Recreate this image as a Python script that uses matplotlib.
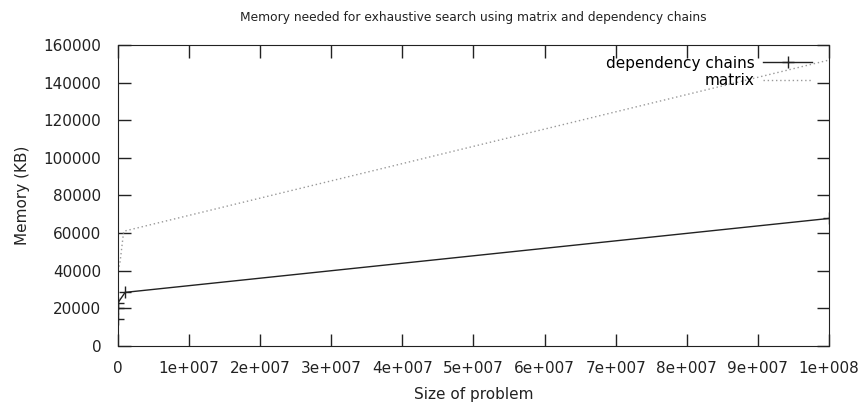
import matplotlib
matplotlib.use("Agg")
import matplotlib.pyplot as plt
from matplotlib.ticker import FuncFormatter, MultipleLocator

# Data
sizes_chains = [0, 0, 0, 1e6, 1e8]
mem_chains = [14500, 20000, 23000, 28500, 67800]

sizes_matrix = [0, 3e5, 8e5, 1e8]
mem_matrix = [40000, 45000, 61000, 152000]

title = "Memory needed for exhaustive search using matrix and dependency chains"

plt.rcParams['font.family'] = ['DejaVu Sans']

fig = plt.figure(figsize=(8.62, 4.11), dpi=100)
ax = fig.add_axes([0.1369, 0.1582, 0.9617 - 0.1369, 0.8905 - 0.1582])

ax.plot(sizes_chains, mem_chains, color="#222222", lw=1.0, marker="+",
        markersize=8, markeredgewidth=1.0, label="dependency chains")
ax.plot(sizes_matrix, mem_matrix, color="#999999", lw=1.0, linestyle=(0, (1, 2)),
        label="matrix")

ax.set_xlim(0, 1e8)
ax.set_ylim(0, 160000)
ax.xaxis.set_major_locator(MultipleLocator(1e7))
ax.yaxis.set_major_locator(MultipleLocator(20000))


def sci(v, pos):
    if v == 0:
        return "0"
    exp = 0
    m = v
    while m >= 10:
        m /= 10
        exp += 1
    return "%de+%03d" % (round(m), exp)


ax.xaxis.set_major_formatter(FuncFormatter(sci))
ax.tick_params(direction="in", length=9, width=1, top=True, right=True,
               labelsize=11, colors="#222222")
ax.tick_params(axis="y", pad=12)
ax.tick_params(axis="x", pad=11)
for s in ax.spines.values():
    s.set_color("#222222")

ax.set_xlabel("Size of problem", fontsize=11, color="#222222", labelpad=8)
ax.set_ylabel("Memory (KB)", fontsize=11, color="#222222", labelpad=10)
ax.set_title(title, fontsize=8.8, color="#222222", pad=17)

ax.legend(loc="upper right", bbox_to_anchor=(0.9916, 1.0), frameon=False,
          markerfirst=False, fontsize=11, handlelength=3.2, handletextpad=0.6,
          borderaxespad=0.3, labelspacing=0.15)

fig.savefig("out.png", dpi=100)
